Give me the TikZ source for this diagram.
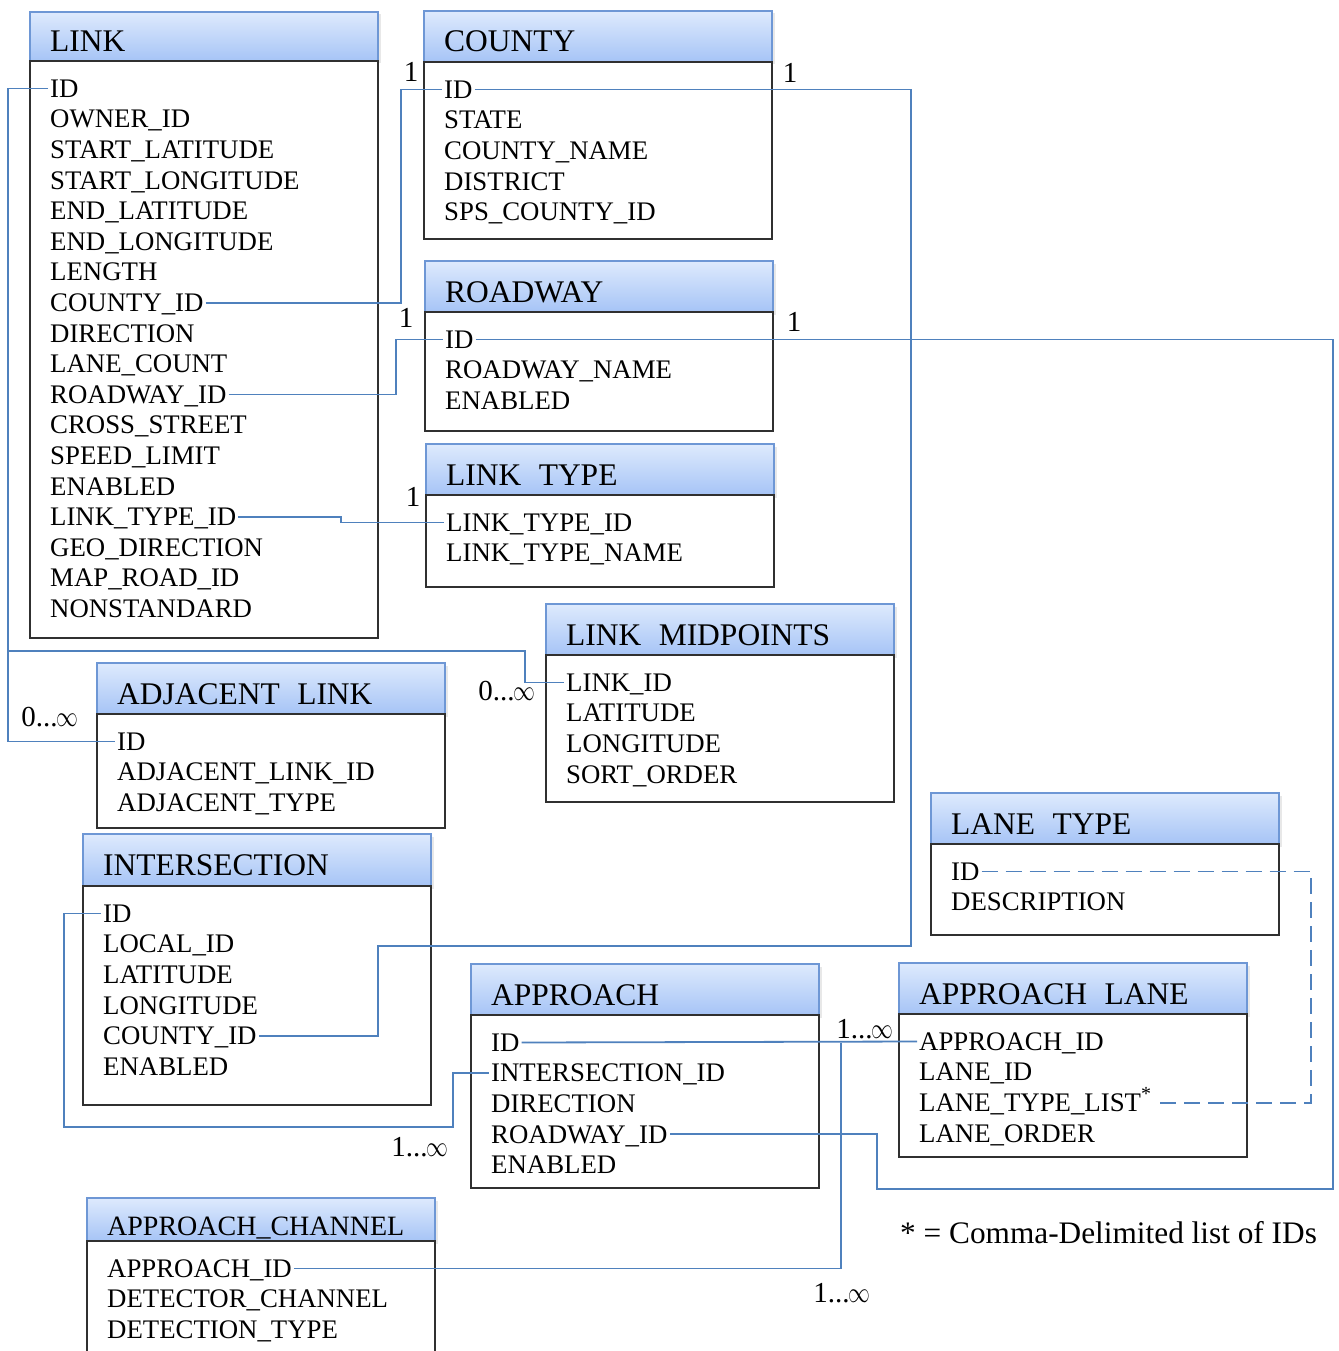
\documentclass[tikz,border=0pt]{standalone}
\usepackage{fontspec}
\setmainfont{Liberation Serif}
\usetikzlibrary{calc,shadows}
\definecolor{conn}{HTML}{4F81BD}
\definecolor{hdrline}{HTML}{6E97D5}
\definecolor{hdrtop}{HTML}{DEEAFD}
\definecolor{hdrbot}{HTML}{A6C4F6}
\definecolor{bodyline}{HTML}{303030}
\tikzset{
  hdr/.style={draw=hdrline, line width=1.5pt, top color=hdrtop, bottom color=hdrbot,
    anchor=north west, minimum width=348, outer sep=0pt, inner sep=0pt,
    drop shadow={shadow xshift=2.5pt, shadow yshift=-2.5pt, opacity=0.18}},
  bodyb/.style={draw=bodyline, line width=1.3pt, fill=white, anchor=north west,
    minimum width=348, outer sep=0pt, inner sep=0pt},
  ttl/.style={anchor=west, inner sep=0pt, text height=21pt, text depth=0pt},
  row/.style={anchor=west, inner xsep=2pt, inner ysep=0pt, text height=17.5pt, text depth=0pt,
    font=\fontsize{26.8}{30}\selectfont},
  card/.style={inner sep=0pt, font=\fontsize{29}{30}\selectfont},
  conn/.style={draw=conn, line width=1.8pt},
  dashconn/.style={conn, dash pattern=on 16pt off 8pt}
}
\newcommand\infsym{\kern-1pt\scalebox{1.05}[1.4]{\fontsize{22}{22}\selectfont$\infty$}}
% #1 name, #2 x, #3 top, #4 header h, #5 body h, #6 title, #7 title size, #8 rows
\newcommand\ertable[8]{%
  \node[hdr, minimum height=#4] (#1-h) at (#2,#3) {};
  \node[ttl, font=\fontsize{#7}{#7}\selectfont] (#1-t) at ({#2+20},{#3+#4/2+5}) {#6};
  \node[bodyb, minimum height=#5] (#1-b) at (#2,{#3+#4}) {};
  \foreach \r [count=\i] in {#8}
    \node[row] (#1-r\i) at ({#2+18},{#3+#4+27.5+30.6*(\i-1)}) {\r};
}
\begin{document}
\begin{tikzpicture}[x=1pt,y=-1pt]
\useasboundingbox (0,0) rectangle (1338,1351);
\clip (0,0) rectangle (1338,1351);
\fill[white] (0,0) rectangle (1338,1351);

\ertable{link}{30}{12}{49}{577}{LINK}{31.5}{ID,OWNER\_ID,START\_LATITUDE,START\_LONGITUDE,END\_LATITUDE,END\_LONGITUDE,LENGTH,COUNTY\_ID,DIRECTION,LANE\_COUNT,ROADWAY\_ID,CROSS\_STREET,SPEED\_LIMIT,ENABLED,LINK\_TYPE\_ID,GEO\_DIRECTION,MAP\_ROAD\_ID,NONSTANDARD}
\ertable{county}{424}{11}{51}{177}{COUNTY}{31.5}{ID,STATE,COUNTY\_NAME,DISTRICT,SPS\_COUNTY\_ID}
\ertable{road}{425}{261}{51}{119}{ROADWAY}{31.5}{ID,ROADWAY\_NAME,ENABLED}
\ertable{ltype}{426}{444}{51}{92}{LINK\hspace{0.55em}TYPE}{31.5}{LINK\_TYPE\_ID,LINK\_TYPE\_NAME}
\ertable{mid}{546}{604}{51}{147}{LINK\hspace{0.55em}MIDPOINTS}{31.5}{LINK\_ID,LATITUDE,LONGITUDE,SORT\_ORDER}
\ertable{adj}{97}{663}{51}{114}{ADJACENT\hspace{0.55em}LINK}{31.5}{ID,ADJACENT\_LINK\_ID,ADJACENT\_TYPE}
\ertable{isec}{83}{834}{52}{219}{INTERSECTION}{31.5}{ID,LOCAL\_ID,LATITUDE,LONGITUDE,COUNTY\_ID,ENABLED}
\ertable{lane}{931}{793}{51}{91}{LANE\hspace{0.55em}TYPE}{31.5}{ID,DESCRIPTION}
\ertable{appr}{471}{964}{51}{173}{APPROACH}{31.5}{ID,INTERSECTION\_ID,DIRECTION,ROADWAY\_ID,ENABLED}
\ertable{alane}{899}{963}{51}{143}{APPROACH\hspace{0.55em}LANE}{31.5}{APPROACH\_ID,LANE\_ID,{LANE\_TYPE\_LIST\raisebox{0.42em}{\fontsize{20}{20}\selectfont *}},LANE\_ORDER}
\ertable{chan}{87}{1198}{43}{140}{APPROACH\_CHANNEL}{28}{APPROACH\_ID,DETECTOR\_CHANNEL,DETECTION\_TYPE}

% helper lanes
\coordinate (vA) at (401,0);
\coordinate (vB) at (396,0);
\coordinate (vC) at (341,0);
\coordinate (vD) at (8,0);
\coordinate (vE) at (1311,0);
\coordinate (vF) at (841,0);
\coordinate (j1) at (8,651);
\coordinate (j2) at (525,651);
\coordinate (k1) at (911,946);
\coordinate (k2) at (378,946);
\coordinate (k3) at (1333,1189);
\coordinate (k4) at (877,1189);
\coordinate (k5) at (64,1127);
\coordinate (k6) at (453,1127);

\draw[conn] (link-r1.west) -- (link-r1.west -| vD) |- (adj-r1.west);
\draw[conn] (j1) -- (j2) |- (mid-r1.west);
\draw[conn] (link-r8.east) -- (link-r8.east -| vA) |- (county-r1.west);
\draw[conn] (county-r1.east) -| (k1) -- (k2) |- (isec-r5.east);
\draw[conn] (link-r11.east) -- (link-r11.east -| vB) |- (road-r1.west);
\draw[conn] (road-r1.east) -| (k3) -- (k4) |- (appr-r4.east);
\draw[conn] (link-r15.east) -- (link-r15.east -| vC) |- (ltype-r1.west);
\draw[conn] (isec-r1.west) -| (k5) -- (k6) |- (appr-r2.west);
\draw[conn] (appr-r1.east) -- (alane-r1.west);
\coordinate (k7) at (appr-r1.east -| vF);
\draw[conn] (k7) |- (chan-r1.east);
\draw[dashconn] (lane-r1.east) -- (lane-r1.east -| vE) |- (alane-r3.east);

% cardinalities
\node[card] (m1) at (411,72) {1};
\node[card] (m2) at (790,73) {1};
\node[card] (m3) at (406,318) {1};
\node[card] (m4) at (794,322) {1};
\node[card] (m5) at (413,497) {1};
\node[card] (m6) at (50,717) {0...\infsym};
\node[card] (m7) at (507,691) {0...\infsym};
\node[card] (m8) at (420,1147) {1...\infsym};
\node[card] (m9) at (865,1029) {1...\infsym};
\node[card] (m10) at (842,1293) {1...\infsym};
\node[anchor=west, inner sep=0pt, font=\fontsize{31.3}{33}\selectfont] (note) at (900,1233) {* = Comma-Delimited list of IDs};
\end{tikzpicture}
\end{document}
